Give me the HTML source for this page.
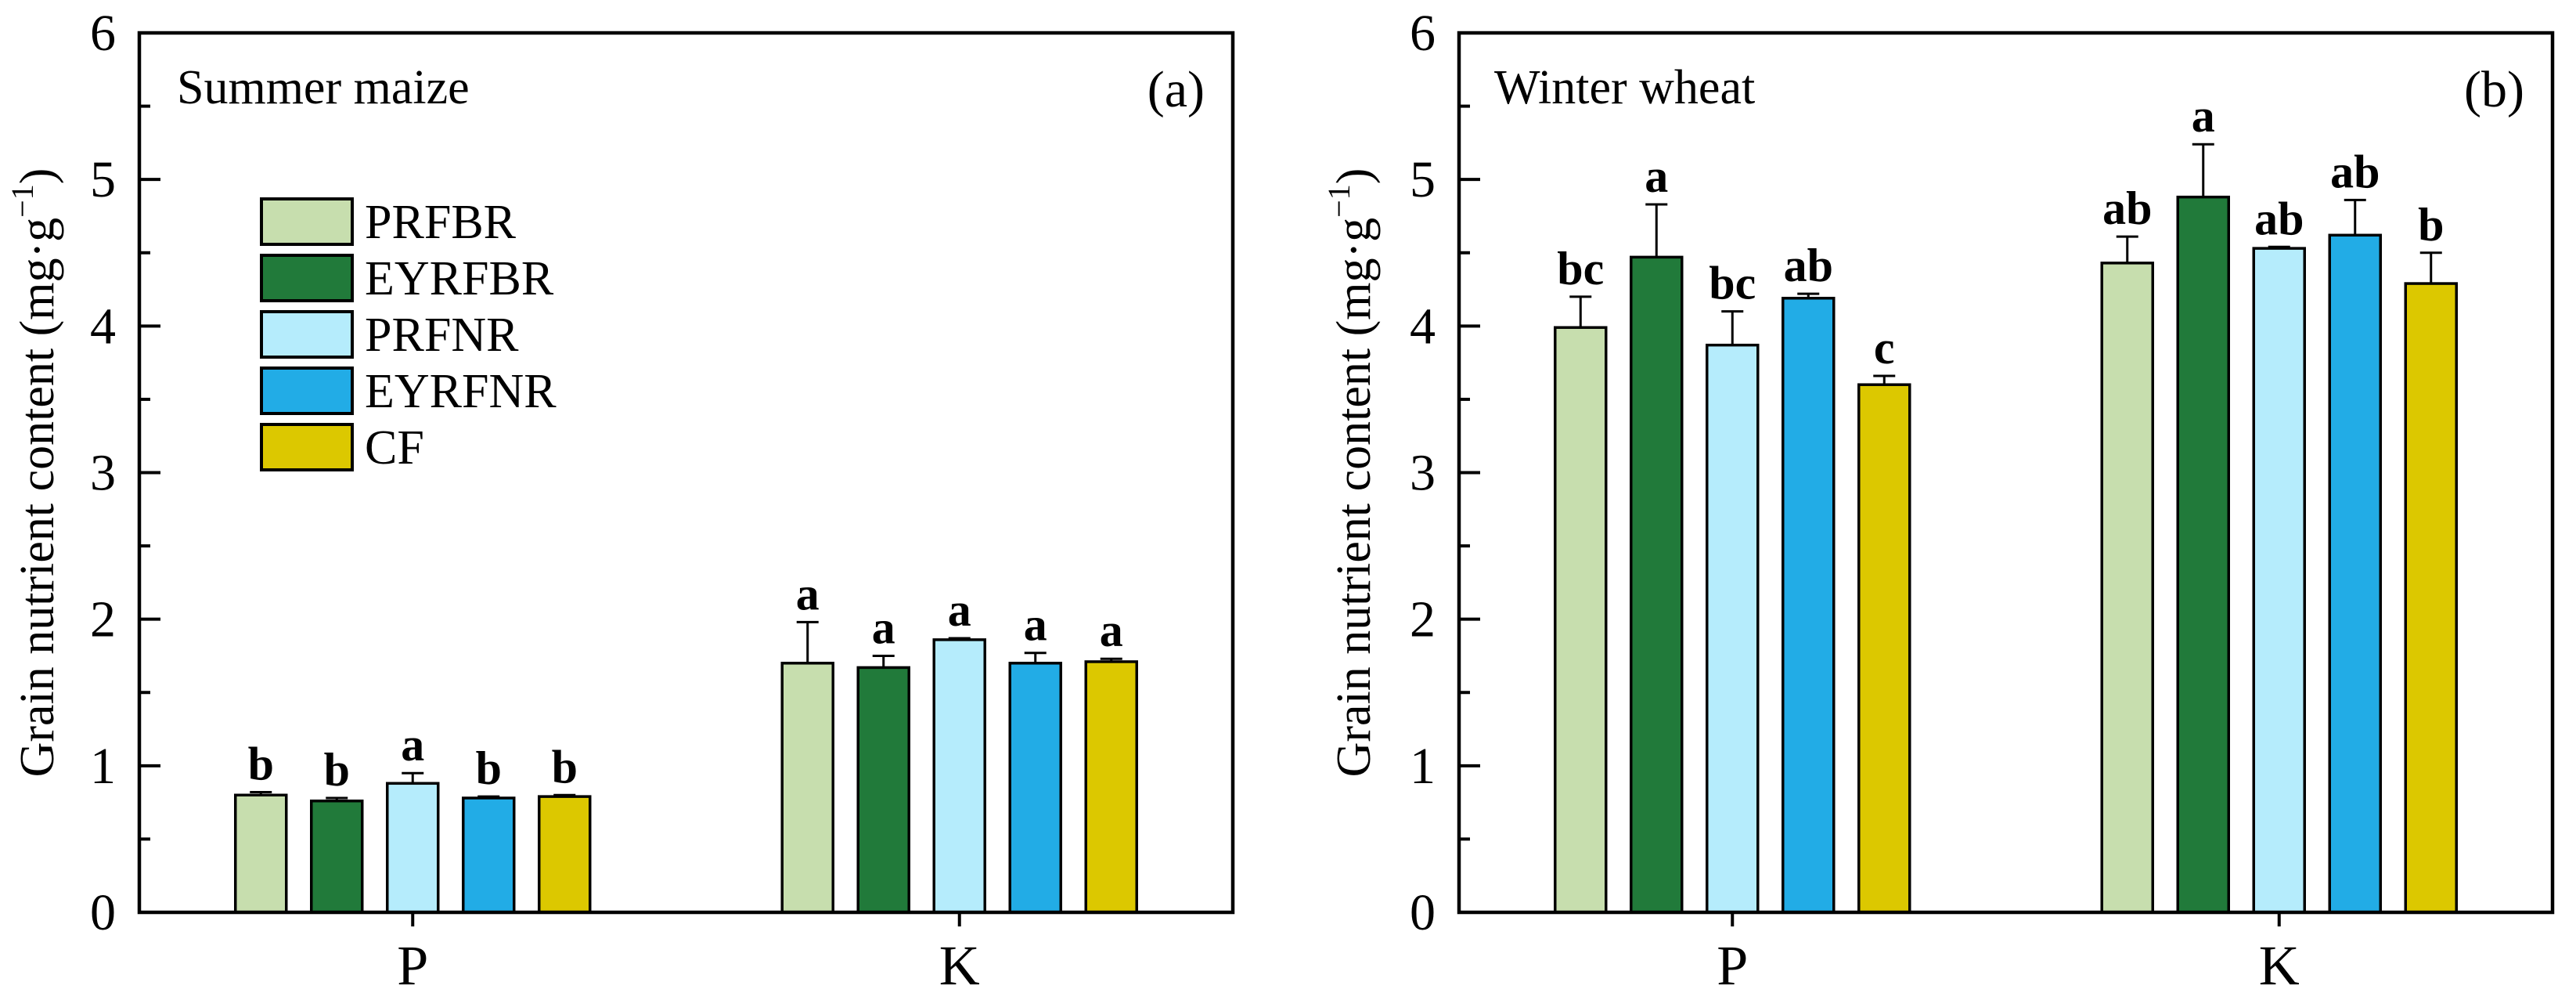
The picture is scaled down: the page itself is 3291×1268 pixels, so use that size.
<!DOCTYPE html>
<html><head><meta charset="utf-8"><style>
html,body{margin:0;padding:0;background:#fff;}
svg{display:block;font-family:"Liberation Serif",serif;}
svg text{font-family:"Liberation Serif",serif;}
</style></head><body>
<svg id="chart" width="3291" height="1268" viewBox="0 0 3291 1268" font-family="Liberation Serif, serif" xmlns="http://www.w3.org/2000/svg"></svg>
<script>
const categories = ["P","K"];
const seriesNames = ["PRFBR","EYRFBR","PRFNR","EYRFNR","CF"];
const seriesColors = ["#c7deae","#217a3a","#b5ecfc","#22ace6","#dcc800"];
const yTicks = [0,1,2,3,4,5,6];
// Panel a: summer maize, [series][category]
const maizeValues = [[0.80,1.70],[0.76,1.67],[0.88,1.86],[0.78,1.70],[0.79,1.71]];
const maizeErrors = [[0.02,0.28],[0.02,0.08],[0.07,0.01],[0.01,0.07],[0.01,0.02]];
const maizeLetters = [["b","a"],["b","a"],["a","a"],["b","a"],["b","a"]];
// Panel b: winter wheat
const wheatValues = [[3.99,4.43],[4.47,4.88],[3.87,4.53],[4.19,4.62],[3.60,4.29]];
const wheatErrors = [[0.21,0.18],[0.36,0.36],[0.23,0.01],[0.03,0.24],[0.06,0.21]];
const wheatLetters = [["bc","ab"],["a","a"],["bc","ab"],["ab","ab"],["c","b"]];

const svg = document.getElementById('chart');
const NS = "http://www.w3.org/2000/svg";
function mk(tag, attrs, parent){const e=document.createElementNS(NS,tag);for(const k in attrs)e.setAttribute(k,attrs[k]);if(tag==='text')e.setAttribute('font-family','Liberation Serif, serif');(parent||svg).appendChild(e);return e;}

function panel(opts){
  const L=opts.left,R=opts.right,T=42,B=1165;
  const g=mk('g',{});
  
  
  const y=v=>B-(v/6)*(B-T);
  const xc=i=>L+(R-L)*(0.25+0.5*i);
  const bw=65,pitch=97;
  for(let s=0;s<seriesNames.length;s++){
    for(let c=0;c<categories.length;c++){
      const cx=xc(c)+(s-2)*pitch;
      const v=opts.values[s][c],e=opts.errors[s][c];
      const ex=mk('line',{x1:cx,x2:cx,y1:y(v),y2:y(v+e),stroke:'#000','stroke-width':3},g);
      
      
      const cap=mk('line',{x1:cx-14,x2:cx+14,y1:y(v+e),y2:y(v+e),stroke:'#000','stroke-width':3},g);
      
      
      const r=mk('rect',{x:cx-bw/2,y:y(v),width:bw,height:B-y(v),fill:seriesColors[s],stroke:'#000','stroke-width':3.5},g);
      
      
      const t=mk('text',{x:cx,y:y(v+e)-16,'text-anchor':'middle','font-size':60,'font-weight':'bold'},g);
      t.textContent=opts.letters[s][c];
      
      
    }
  }
  const fr=mk('rect',{x:L,y:T,width:R-L,height:B-T,fill:'none',stroke:'#000','stroke-width':4.5},g);
  
  
  for(const v of yTicks){
    const tk=mk('line',{x1:L,x2:L+27,y1:y(v),y2:y(v),stroke:'#000','stroke-width':4},g);
    
    
    const tl=mk('text',{x:L-30,y:y(v)+22,'text-anchor':'end','font-size':66},g);
    tl.textContent=v;
    
    
    if(v<6){
      const mt=mk('line',{x1:L,x2:L+14,y1:y(v+0.5),y2:y(v+0.5),stroke:'#000','stroke-width':4},g);
      
      
    }
  }
  categories.forEach((c,i)=>{
    const tk=mk('line',{x1:xc(i),x2:xc(i),y1:B,y2:B+18,stroke:'#000','stroke-width':4},g);
    
    
    const tl=mk('text',{x:xc(i),y:1257,'text-anchor':'middle','font-size':72},g);
    tl.textContent=c;
    
    
  });
  const yt=mk('text',{transform:`translate(${opts.titleX},${(T+B)/2}) rotate(-90)`,'text-anchor':'middle','font-size':62},g);
  yt.innerHTML='Grain nutrient content (mg·g<tspan font-size="40" dy="-26">−1</tspan><tspan dy="26">)</tspan>';
  
  
  const ct=mk('text',{x:opts.cropX,y:132,'font-size':62},g);
  ct.textContent=opts.crop;
  
  
  const pl=mk('text',{x:R-36,y:136,'text-anchor':'end','font-size':66},g);
  pl.textContent=opts.tag;
  
  
}
panel({name:'panel-a-summer-maize',left:178,right:1575,values:maizeValues,errors:maizeErrors,letters:maizeLetters,titleX:68,crop:'Summer maize',cropX:226,tag:'(a)'});
panel({name:'panel-b-winter-wheat',left:1864,right:3261,values:wheatValues,errors:wheatErrors,letters:wheatLetters,titleX:1750,crop:'Winter wheat',cropX:1909,tag:'(b)'});

const lg=mk('g',{});


seriesNames.forEach((n,i)=>{
  const top=254+i*72;
  const r=mk('rect',{x:334,y:top,width:116,height:58,fill:seriesColors[i],stroke:'#000','stroke-width':4},lg);
  
  
  const t=mk('text',{x:466,y:top+50,'font-size':62},lg);
  t.textContent=n;
  
  
});
</script>
</body></html>
